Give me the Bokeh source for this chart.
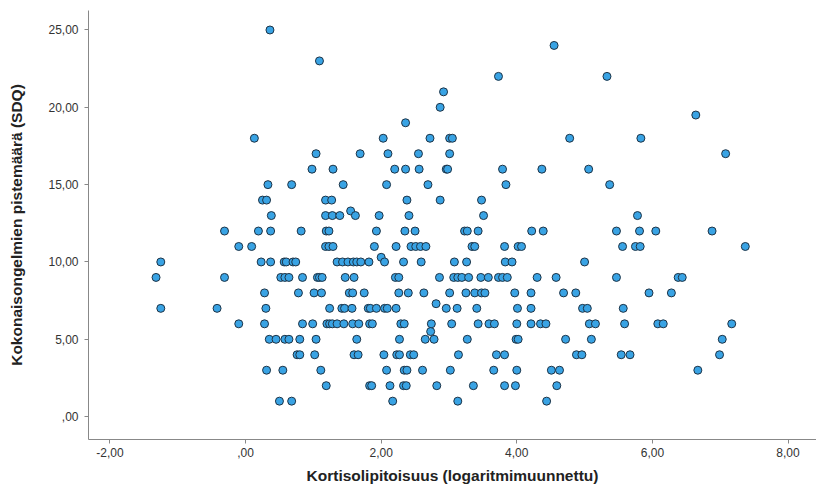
from bokeh.plotting import figure
from bokeh.models import FixedTicker, CustomJSTickFormatter, Range1d, ColumnDataSource
from bokeh.embed import file_html
from bokeh.resources import INLINE

# Kortisolipitoisuus (log) values, grouped by SDQ total score (y)
sdq_25 = [0.36]
sdq_24 = [4.55]
sdq_23 = [1.09]
sdq_22 = [3.73, 5.33]
sdq_21 = [2.92]
sdq_20 = [2.87]
sdq_19_5 = [6.64]
sdq_19 = [2.36]
sdq_18 = [0.13, 2.03, 2.72, 3.01, 3.05, 4.78, 5.83]
sdq_17 = [1.04, 1.69, 2.10, 2.55, 3.01, 7.08]
sdq_16 = [0.98, 1.29, 2.20, 2.36, 2.56, 2.96, 2.98, 3.79, 4.37, 5.06]
sdq_15 = [0.33, 0.68, 1.44, 2.08, 2.69, 3.84, 5.37]
sdq_14 = [0.25, 0.31, 1.18, 1.27, 2.38, 2.87, 3.48]
sdq_13_3 = [1.55]
sdq_13 = [0.38, 1.18, 1.28, 1.39, 1.62, 1.97, 2.41, 3.51, 5.78]
sdq_12 = [-0.31, 0.19, 0.37, 0.82, 1.19, 1.23, 1.93, 2.35, 2.50, 3.23, 3.27,
          3.43, 4.22, 4.39, 5.47, 5.81, 6.05, 6.88]
sdq_11 = [-0.10, 0.09, 1.18, 1.23, 1.29, 1.90, 2.22, 2.44, 2.51, 2.58, 2.66,
          3.34, 3.38, 3.82, 4.02, 4.07, 5.56, 5.75, 5.82, 7.37]
sdq_10_3 = [2.00]
sdq_10 = [-1.25, 0.23, 0.37, 0.57, 0.60, 0.70, 0.74, 1.35, 1.43, 1.51, 1.59,
          1.64, 1.70, 1.82, 2.05, 2.33, 2.59, 3.08, 3.26, 3.83, 3.93, 5.00]
sdq_9 = [-1.32, -0.31, 0.52, 0.58, 0.64, 0.84, 1.06, 1.09, 1.13, 1.47, 1.60,
         2.21, 2.26, 2.86, 3.07, 3.13, 3.19, 3.29, 3.47, 3.58, 3.73, 3.79,
         3.86, 4.30, 4.58, 5.47, 6.38, 6.44]
sdq_8 = [0.28, 0.78, 1.01, 1.12, 1.53, 1.58, 1.75, 2.26, 2.40, 2.63, 3.01,
         3.25, 3.38, 3.48, 3.53, 3.97, 4.21, 4.69, 4.87, 5.95, 6.28]
sdq_7_3 = [2.81]
sdq_7 = [-1.25, -0.42, 0.30, 1.24, 1.42, 1.46, 1.57, 1.81, 1.84, 1.93, 2.05,
         2.09, 2.22, 2.96, 3.12, 3.41, 4.01, 4.21, 4.97, 5.04, 5.57]
sdq_6 = [-0.10, 0.28, 0.84, 0.99, 1.20, 1.24, 1.28, 1.35, 1.45, 1.58, 1.67,
         1.83, 1.87, 2.29, 2.34, 2.74, 3.04, 3.43, 3.59, 3.67, 4.00, 4.21,
         4.35, 4.43, 5.07, 5.16, 5.59, 6.08, 6.16, 7.17]
sdq_5_5 = [2.73]
sdq_5 = [0.35, 0.45, 0.58, 0.64, 0.80, 1.04, 1.64, 2.27, 2.65, 2.78, 3.27,
         3.99, 4.02, 4.72, 5.10, 7.03]
sdq_4 = [0.76, 0.80, 1.02, 1.60, 1.66, 2.04, 2.23, 2.27, 2.43, 2.48, 3.14,
         3.70, 3.82, 4.88, 4.96, 5.54, 5.67, 6.99]
sdq_3 = [0.31, 0.55, 1.11, 2.08, 2.34, 2.38, 2.61, 3.02, 3.66, 4.00, 4.51,
         4.63, 6.67]
sdq_2 = [1.19, 1.83, 1.86, 2.13, 2.33, 2.37, 2.82, 3.36, 3.82, 3.98, 4.59]
sdq_1 = [0.50, 0.68, 2.17, 3.13, 4.44]

rows = [
    (25, sdq_25), (24, sdq_24), (23, sdq_23), (22, sdq_22), (21, sdq_21),
    (20, sdq_20), (19.5, sdq_19_5), (19, sdq_19), (18, sdq_18), (17, sdq_17),
    (16, sdq_16), (15, sdq_15), (14, sdq_14), (13.3, sdq_13_3), (13, sdq_13),
    (12, sdq_12), (11, sdq_11), (10.3, sdq_10_3), (10, sdq_10), (9, sdq_9),
    (8, sdq_8), (7.3, sdq_7_3), (7, sdq_7), (6, sdq_6), (5.5, sdq_5_5),
    (5, sdq_5), (4, sdq_4), (3, sdq_3), (2, sdq_2), (1, sdq_1),
]

x_ticks = [-2, 0, 2, 4, 6, 8]
y_ticks = [0, 5, 10, 15, 20, 25]

xs, ys = [], []
for yv, row in rows:
    for xv in row:
        xs.append(xv)
        ys.append(yv)
src = ColumnDataSource(dict(x=xs, y=ys))

p = figure(width=816, height=486, output_backend="svg", toolbar_location=None,
           x_range=Range1d(-2.316, 8.42), y_range=Range1d(-1.48, 26.26),
           min_border_left=88, min_border_right=0, min_border_top=10,
           min_border_bottom=46)
p.outline_line_color = None
p.xgrid.visible = False
p.ygrid.visible = False
p.background_fill_color = "white"
p.border_fill_color = "white"

p.scatter("x", "y", source=src, size=8, marker="circle",
          fill_color="#39a3e4", line_color="#1d3346", line_width=1)

fmt = CustomJSTickFormatter(code="""
let s = tick.toFixed(2).replace('.', ',');
if (s.startsWith('0,')) s = s.slice(1);
return s;
""")

for ax, ticks, label in [
        (p.xaxis[0], x_ticks, "Kortisolipitoisuus (logaritmimuunnettu)"),
        (p.yaxis[0], y_ticks, "Kokonaisongelmien pistemäärä (SDQ)")]:
    ax.ticker = FixedTicker(ticks=ticks)
    ax.formatter = fmt
    ax.minor_tick_line_color = None
    ax.major_tick_out = 4
    ax.major_tick_in = 0
    ax.major_tick_line_color = "#888888"
    ax.axis_line_color = "#888888"
    ax.major_label_text_font = "Liberation Sans"
    ax.major_label_text_font_size = "12px"
    ax.major_label_text_color = "#333333"
    ax.axis_label = label
    ax.axis_label_text_font = "Liberation Sans"
    ax.axis_label_text_font_style = "bold"
    ax.axis_label_text_font_size = "15.5px"
    ax.axis_label_text_color = "#222222"

p.xaxis.major_label_standoff = 4
p.xaxis.axis_label_standoff = 7
p.yaxis.major_label_standoff = 6
p.yaxis.axis_label_standoff = 20

open("out.html", "w").write(file_html(p, INLINE))
